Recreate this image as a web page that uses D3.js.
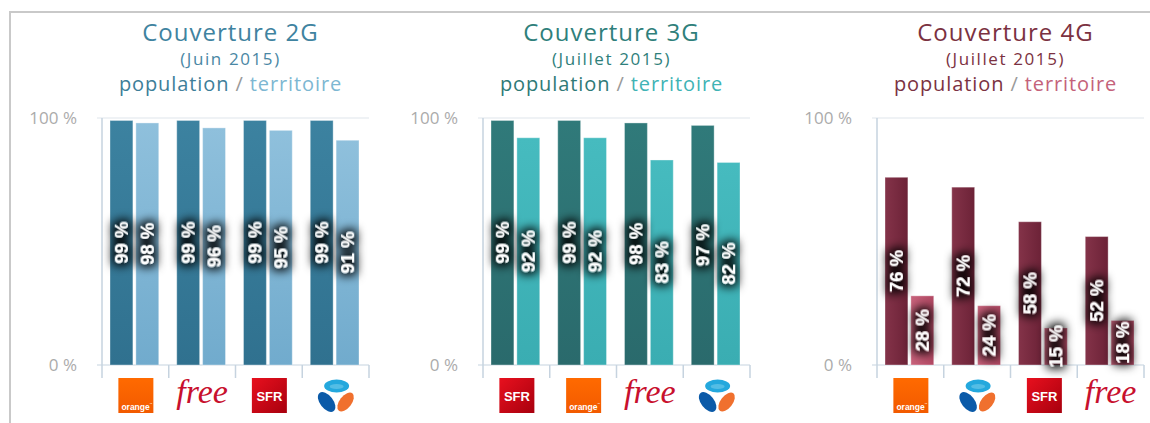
<!DOCTYPE html>
<html>
<head>
<meta charset="utf-8">
<script src="https://cdn.jsdelivr.net/npm/d3@7"></script>
<style>
  html, body { margin: 0; padding: 0; background: #ffffff; }
  svg { display: block; }
</style>
</head>
<body>
<svg id="chart" width="1150" height="423"></svg>
<script>
// ---------- DATA ----------
const panelTitles = ["Couverture 2G", "Couverture 3G", "Couverture 4G"];
const panelDates = ["(Juin 2015)", "(Juillet 2015)", "(Juillet 2015)"];
const seriesNames = ["population", "territoire"];

const categories2G = ["orange", "free", "sfr", "bouygues"];
const population2G = [99, 99, 99, 99];
const territoire2G = [98, 96, 95, 91];

const categories3G = ["sfr", "orange", "free", "bouygues"];
const population3G = [99, 99, 98, 97];
const territoire3G = [92, 92, 83, 82];

const categories4G = ["orange", "bouygues", "sfr", "free"];
const population4G = [76, 72, 58, 52];
const territoire4G = [28, 24, 15, 18];

const yTickValues = [0, 100];
const yTickLabels = ["0 %", "100 %"];

// ---------- STYLE ----------
const themes = [
  { title: "#3f83a0", date: "#4a87a4", pop: "#3d7e99", terr: "#7db7d2",
    dark: ["#3c82a0", "#30718f"], light: ["#8fc0dc", "#71abcd"] },
  { title: "#2f7f7b", date: "#2f7f7b", pop: "#2f7a77", terr: "#3fb3b5",
    dark: ["#307a7a", "#2a6a6c"], light: ["#46bbbf", "#3aadb2"] },
  { title: "#7b3141", date: "#7b3141", pop: "#7b3242", terr: "#c4627a",
    dark: ["#843349", "#6c2237"], light: ["#c8627b", "#b24863"] }
];
const axisX = [102, 483, 877];
const plotW = 267;
const yTop = 118, yBottom = 365;

const svg = d3.select("#chart");
const defs = svg.append("defs");

// halo filter for labels
const f = defs.append("filter").attr("id", "halo")
  .attr("x", "-80%").attr("y", "-80%").attr("width", "260%").attr("height", "260%");
f.append("feMorphology").attr("in", "SourceAlpha").attr("operator", "dilate").attr("radius", 3).attr("result", "d");
f.append("feGaussianBlur").attr("in", "d").attr("stdDeviation", 5).attr("result", "b");
f.append("feFlood").attr("flood-color", "#000").attr("flood-opacity", 0.9).attr("result", "c");
f.append("feComposite").attr("in", "c").attr("in2", "b").attr("operator", "in").attr("result", "s");
const fm = f.append("feMerge");
fm.append("feMergeNode").attr("in", "s");
fm.append("feMergeNode").attr("in", "SourceGraphic");

// gradients
themes.forEach((t, i) => {
  ["dark", "light"].forEach(k => {
    const g = defs.append("linearGradient").attr("id", `g${i}${k}`)
      .attr("x1", 0).attr("y1", 0);
    if (i === 2) g.attr("x2", 1).attr("y2", 0); else g.attr("x2", 0).attr("y2", 1);
    g.append("stop").attr("offset", "0%").attr("stop-color", t[k][0]);
    g.append("stop").attr("offset", "100%").attr("stop-color", t[k][1]);
  });
});
const og = defs.append("linearGradient").attr("id", "orangeG").attr("x1", 0).attr("y1", 0).attr("x2", 0).attr("y2", 1);
og.append("stop").attr("offset", "0%").attr("stop-color", "#ff6a00");
og.append("stop").attr("offset", "100%").attr("stop-color", "#f25a00");
const sg = defs.append("linearGradient").attr("id", "sfrG").attr("x1", 0).attr("y1", 0).attr("x2", 1).attr("y2", 1);
sg.append("stop").attr("offset", "0%").attr("stop-color", "#e8101e");
sg.append("stop").attr("offset", "100%").attr("stop-color", "#a8000e");

// frame
svg.append("path").attr("d", "M10,423 L10,12 L1150,12")
  .attr("fill", "none").attr("stroke", "#c9c9c9").attr("stroke-width", 2);

const panels = [
  { cats: categories2G, pop: population2G, terr: territoire2G },
  { cats: categories3G, pop: population3G, terr: territoire3G },
  { cats: categories4G, pop: population4G, terr: territoire4G }
];

function drawLogo(g, name) {
  if (name === "orange") {
    g.append("rect").attr("x", -17).attr("y", 0).attr("width", 35).attr("height", 35).attr("fill", "url(#orangeG)");
    g.append("text").attr("x", -14).attr("y", 32).attr("fill", "#fff")
      .attr("font-family", "Liberation Sans, Arial, sans-serif").attr("font-weight", "bold")
      .attr("font-size", 8.5).text("orange");
    g.append("text").attr("x", 14).attr("y", 27).attr("fill", "#fff")
      .attr("font-family", "Liberation Sans, Arial, sans-serif").attr("font-size", 3).text("™");
  } else if (name === "sfr") {
    g.append("rect").attr("x", -17).attr("y", 0).attr("width", 35).attr("height", 35).attr("fill", "url(#sfrG)");
    g.append("text").attr("x", 0.5).attr("y", 23).attr("text-anchor", "middle").attr("fill", "#fff")
      .attr("font-family", "Liberation Sans, Arial, sans-serif").attr("font-weight", "bold")
      .attr("font-size", 13).text("SFR");
  } else if (name === "free") {
    g.append("text").attr("x", 0).attr("y", 25).attr("text-anchor", "middle").attr("fill", "#c8102e")
      .attr("font-family", "Liberation Serif, DejaVu Serif, serif").attr("font-style", "italic")
      .attr("font-size", 34).text("free");
  } else if (name === "bouygues") {
    g.append("ellipse").attr("cx", 1).attr("cy", 8).attr("rx", 12.5).attr("ry", 6.5).attr("fill", "#24a8dd");
    g.append("ellipse").attr("cx", 1).attr("cy", 8.5).attr("rx", 7).attr("ry", 2.5).attr("fill", "#8fd6f0").attr("opacity", 0.45);
    g.append("ellipse").attr("transform", "translate(-9,24) rotate(-38)").attr("rx", 6.5).attr("ry", 11.5).attr("fill", "#0b5aa8");
    g.append("ellipse").attr("transform", "translate(10,24) rotate(38)").attr("rx", 6).attr("ry", 11).attr("fill", "#f0702e");
  }
}

const y = d3.scaleLinear().domain([0, 100]).range([yBottom, yTop]);

panels.forEach((p, i) => {
  const t = themes[i];
  const x0 = axisX[i];
  const g = svg.append("g");
  const cx = x0 + plotW / 2 - 5;

  // titles
  g.append("text").attr("x", cx).attr("y", 41).attr("text-anchor", "middle")
    .attr("font-family", "Open Sans, sans-serif").attr("font-size", 24).attr("letter-spacing", 1)
    .attr("fill", t.title).text(panelTitles[i]);
  g.append("text").attr("x", cx).attr("y", 65).attr("text-anchor", "middle")
    .attr("font-family", "Open Sans, sans-serif").attr("font-size", 17).attr("letter-spacing", 1.6)
    .attr("fill", t.date).text(panelDates[i]);
  const sub = g.append("text").attr("x", cx).attr("y", 91).attr("text-anchor", "middle")
    .attr("font-family", "Open Sans, sans-serif").attr("font-size", 20).attr("letter-spacing", 0.9);
  sub.append("tspan").attr("fill", t.pop).text(seriesNames[0]);
  sub.append("tspan").attr("fill", "#9a9a9a").text(" / ");
  sub.append("tspan").attr("fill", t.terr).text(seriesNames[1]);

  // scales
  const x = d3.scaleBand().domain(p.cats).range([x0, x0 + plotW]).padding(0);
  const xs = d3.scaleBand().domain(seriesNames).range([8, x.bandwidth() - 10]).paddingInner(0.115);

  // gridlines
  yTickValues.forEach((v, k) => {
    g.append("line").attr("x1", x0 - 5).attr("x2", x0 + plotW).attr("y1", y(v)).attr("y2", y(v))
      .attr("stroke", v === 0 ? "#c6d3df" : "#dfe5ec").attr("stroke-width", 1.2);
    g.append("text").attr("x", x0 - 25).attr("y", y(v) + 6).attr("text-anchor", "end")
      .attr("font-family", "Open Sans, sans-serif").attr("font-size", 17).attr("fill", "#ababab")
      .text(yTickLabels[k]);
  });
  // axis line
  g.append("line").attr("x1", x0).attr("x2", x0).attr("y1", yTop).attr("y2", yBottom + 13)
    .attr("stroke", "#c6d3df").attr("stroke-width", 1.5);
  // category ticks
  p.cats.forEach(c => {
    const xe = x(c) + x.bandwidth();
    g.append("line").attr("x1", xe).attr("x2", xe).attr("y1", yBottom).attr("y2", yBottom + 13)
      .attr("stroke", "#c6d3df").attr("stroke-width", 1.5);
  });

  // bars
  const rows = p.cats.map((c, k) => ({ c, vals: [p.pop[k], p.terr[k]] }));
  const cg = g.selectAll("g.cat").data(rows).join("g").attr("class", "cat")
    .attr("transform", d => `translate(${x(d.c)},0)`);
  cg.selectAll("rect").data(d => d.vals.map((v, k) => ({ s: seriesNames[k], v })))
    .join("rect")
    .attr("x", d => xs(d.s)).attr("width", xs.bandwidth())
    .attr("y", d => y(d.v)).attr("height", d => y(0) - y(d.v))
    .attr("fill", d => d.s === "population" ? `url(#g${i}dark)` : `url(#g${i}light)`)
    .attr("stroke", "rgba(255,255,255,0.35)").attr("stroke-width", 1);

  // labels
  const lg = g.append("g");
  rows.forEach(r => {
    r.vals.forEach((v, k) => {
      const lx = x(r.c) + xs(seriesNames[k]) + xs.bandwidth() / 2;
      const ly = (y(v) + y(0)) / 2;
      lg.append("text")
        .attr("transform", `translate(${lx + 6.5},${ly}) rotate(-90)`)
        .attr("text-anchor", "middle")
        .attr("font-family", "Liberation Sans, Arial, sans-serif").attr("font-weight", "bold")
        .attr("font-size", 18.5).attr("fill", "#fff").attr("filter", "url(#halo)")
        .text(`${v} %`);
    });
  });

  // logos
  p.cats.forEach(c => {
    const lgp = g.append("g").attr("transform", `translate(${x(c) + x.bandwidth() / 2},378)`);
    drawLogo(lgp, c);
  });
});
</script>
</body>
</html>
